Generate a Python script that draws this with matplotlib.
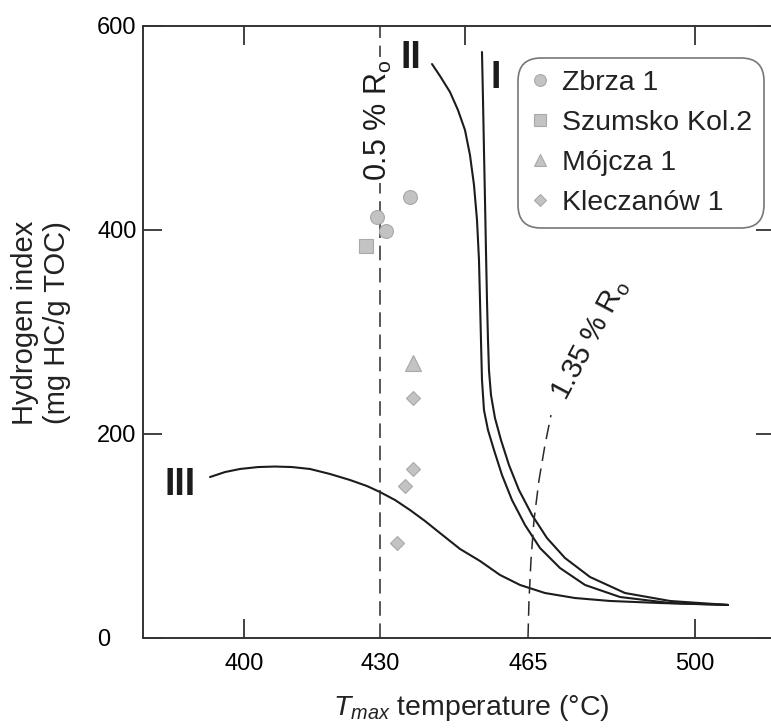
import numpy as np
import matplotlib
matplotlib.use('Agg')
import matplotlib.pyplot as plt

plt.rcParams['font.family'] = ['Liberation Sans', 'DejaVu Sans']
plt.rcParams['mathtext.fontset'] = 'custom'
plt.rcParams['mathtext.rm'] = 'Liberation Sans'
plt.rcParams['mathtext.it'] = 'Liberation Sans:italic'
plt.rcParams['mathtext.bf'] = 'Liberation Sans:bold'
plt.rcParams['lines.scale_dashes'] = False

# ---------------- data ----------------
x_ticks = [400, 430, 465, 500]
y_ticks = [0, 200, 400, 600]

type1_tmax = [454.12, 454.36, 454.59, 454.83, 455.06, 455.30, 455.54, 455.77, 456.25, 457.19,
              458.61, 460.50, 462.86, 465.84, 468.98, 472.76, 478.00, 485.33, 494.76, 506.92]
type1_hi = [574.5, 527.5, 478.4, 429.4, 380.4, 331.4, 292.2, 262.7, 238.2, 215.7,
            194.1, 169.6, 145.1, 120.6, 98.0, 78.4, 59.8, 44.1, 36.3, 32.4]

type2_tmax = [442.30, 444.19, 446.55, 448.44, 450.10, 451.28, 452.23, 452.94, 453.41, 453.65,
              453.88, 454.12, 454.59, 455.54, 456.96, 458.85, 461.21, 464.29, 467.52, 471.71,
              476.95, 484.28, 494.76, 506.92]
type2_hi = [562.7, 551.0, 535.3, 517.6, 498.0, 473.5, 444.1, 409.8, 370.6, 331.4,
            292.2, 252.9, 223.5, 203.9, 184.3, 159.8, 135.3, 110.8, 88.2, 68.6,
            52.0, 40.2, 34.3, 32.4]

type3_tmax = [392.50, 395.81, 399.12, 403.09, 406.84, 410.59, 414.56, 418.97, 423.38, 427.13,
              430.00, 433.55, 437.09, 440.64, 444.19, 448.92, 453.65, 458.38, 463.11, 468.56,
              474.85, 482.19, 492.67, 506.92]
type3_hi = [157.8, 162.7, 165.7, 167.6, 168.1, 167.6, 165.7, 160.8, 154.9, 149.0,
            143.1, 135.3, 125.5, 114.7, 102.9, 87.3, 75.5, 61.8, 52.0, 44.1,
            39.2, 36.3, 34.3, 32.4]

ro05_tmax = [430, 430]
ro05_hi = [0, 600]

ro135_tmax = [465.0, 465.21, 465.63, 466.26, 467.31, 468.56, 469.82]
ro135_hi = [0, 37.3, 76.5, 115.7, 154.9, 189.2, 218.6]

zbrza_tmax = [429.3, 431.4, 437.1]
zbrza_hi = [413, 399, 432]
szumsko_tmax = [426.9]
szumsko_hi = [384]
mojcza_tmax = [437.8]
mojcza_hi = [270]
kleczanow_tmax = [437.8, 437.8, 435.9, 434.1]
kleczanow_hi = [235, 166, 149, 93]

# --------------- scale (schematic, piecewise-linear Tmax axis) ---------------
anchor_T = [300, 400, 430, 465, 500, 600]
anchor_u = [-453.3, 0, 136, 284, 451, 928.1]


def fwd(t):
    return np.interp(t, anchor_T, anchor_u)


def inv(u):
    return np.interp(u, anchor_u, anchor_T)


W, H = 771, 728
fig = plt.figure(figsize=(W / 100, H / 100), dpi=100)
ax = fig.add_axes([143 / W, (H - 638) / H, (775 - 143) / W, (638 - 26) / H])
ax.set_xscale('function', functions=(fwd, inv))
ax.set_xlim(377.72, 516.77)
ax.set_ylim(0, 600)

curve_kw = dict(color='#1c1c1c', lw=1.5, solid_capstyle='round', solid_joinstyle='round')
ax.plot(type1_tmax, type1_hi, **curve_kw)
ax.plot(type2_tmax, type2_hi, **curve_kw)
ax.plot(type3_tmax, type3_hi, **curve_kw)

dash_kw = dict(color='#2a2a2a', lw=1.1, dashes=(10.5, 5.5))
ax.plot(ro05_tmax, ro05_hi, **dash_kw)
ax.plot(ro135_tmax, ro135_hi, **dash_kw)

mk = dict(color='#c3c3c3', markeredgecolor='#a9a9a9', markeredgewidth=0.8, linestyle='none')
ax.plot(zbrza_tmax, zbrza_hi, marker='o', markersize=10, label='Zbrza 1', **mk)
ax.plot(szumsko_tmax, szumsko_hi, marker='s', markersize=10, label='Szumsko Kol.2', **mk)
ax.plot(mojcza_tmax, mojcza_hi, marker='^', markersize=11, label='Mójcza 1', **mk)
ax.plot(kleczanow_tmax, kleczanow_hi, marker='D', markersize=7.5, label='Kleczanów 1', **mk)

# labels on diagram
num_kw = dict(fontsize=27, fontweight='bold', color='#1c1c1c', ha='center', va='center')
ax.text(457.4, 549, 'I', **num_kw)
ax.text(437.3, 569, 'II', **num_kw)
ax.text(385.9, 150, 'III', **num_kw)

ax.text(429.7, 508, '0.5 % R$_{\\rm o}$', rotation=90, fontsize=22, ha='center', va='center',
        color='#1c1c1c', bbox=dict(facecolor='white', edgecolor='none', pad=1.5))
ax.text(478.0, 292, '1.35 % R$_{\\rm o}$', rotation=62, fontsize=21, ha='center', va='center',
        color='#1c1c1c', rotation_mode='anchor')

# spines / ticks
for s in ax.spines.values():
    s.set_linewidth(1.4)
    s.set_color('#333333')

ax.set_xticks([400, 500])
ax.set_xticklabels(['400', '500'])
ax.set_xticks([430, 465], minor=True)
ax.set_xticklabels(['430', '465'], minor=True)
ax.tick_params(axis='x', which='major', direction='in', length=13.7, width=1.3, color='#333333',
               labelsize=17, pad=11)
ax.tick_params(axis='x', which='minor', direction='in', length=0, labelsize=17, pad=11)

ax.set_yticks(y_ticks)
ax.set_yticklabels([str(v) for v in y_ticks])
ax.tick_params(axis='y', direction='in', length=13.7, width=1.3, color='#333333', right=True,
               labelsize=17, pad=33)
for lbl in ax.get_yticklabels():
    lbl.set_horizontalalignment('left')

ax_top = ax.twiny()
ax_top.set_xscale('function', functions=(fwd, inv))
ax_top.set_xlim(ax.get_xlim())
ax_top.set_xticks([400, 450, 500])
ax_top.tick_params(axis='x', direction='in', length=13.7, width=1.3, color='#333333', labeltop=False)
ax_top.xaxis.set_minor_locator(matplotlib.ticker.NullLocator())
for s in ax_top.spines.values():
    s.set_visible(False)

ax.set_ylabel('Hydrogen index\n(mg HC/g TOC)', fontsize=21, va='center', ha='center', color='#222222')
ax.yaxis.set_label_coords(-0.161, 0.515)
ax.set_xlabel('$T_{max}$ temperature (°C)', fontsize=20.5, va='center', color='#222222')
ax.xaxis.set_label_coords(0.52, -0.114)

leg = ax.legend(loc='upper left', bbox_to_anchor=(0.593, 0.948), borderaxespad=0, fontsize=20.5,
                frameon=True, fancybox=True, handlelength=0.7, handletextpad=0.42,
                labelspacing=0.49, borderpad=0.42, markerscale=0.85)
frame = leg.get_frame()
frame.set_edgecolor('#555555')
frame.set_linewidth(1.2)
frame.set_boxstyle('round,pad=0,rounding_size=0.8')
for t in leg.get_texts():
    t.set_color('#222222')

fig.savefig('out.png', dpi=100)
